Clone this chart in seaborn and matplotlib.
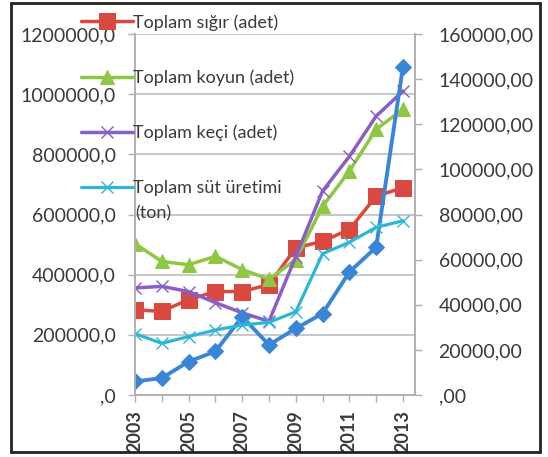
import numpy as np
import pandas as pd
import seaborn as sns
import matplotlib.pyplot as plt
from matplotlib.ticker import FuncFormatter, MultipleLocator
from matplotlib.patches import Rectangle

years = [2003, 2004, 2005, 2006, 2007, 2008, 2009, 2010, 2011, 2012, 2013]

# left axis (adet)
sigir = [283000, 278000, 317000, 344000, 344000, 367000, 489000, 511000, 550000, 661000, 689000]
koyun = [503000, 444000, 433000, 461000, 417000, 385000, 450000, 627000, 744000, 883000, 950000]
keci = [356000, 361000, 344000, 307000, 273000, 245000, 460000, 678000, 793000, 927000, 1010000]

# right axis (ton)
sut = [27200, 22900, 25900, 28800, 31000, 32200, 36900, 62600, 67700, 74300, 77200]
mavi = [6000, 7500, 14800, 19300, 34700, 22200, 29500, 36100, 54500, 65500, 145500]

labels = ['Toplam sığır (adet)', 'Toplam koyun (adet)', 'Toplam keçi (adet)',
          'Toplam süt üretimi']

df = pd.DataFrame({'yil': years, 'sigir': sigir, 'koyun': koyun, 'keci': keci,
                   'sut': sut, 'mavi': mavi})

sns.set_style('white')
plt.rcParams['font.family'] = ['Lato', 'DejaVu Sans']
txt = '#3a3a3a'

fig = plt.figure(figsize=(5.48, 4.57), dpi=100)
ax = fig.add_axes([135/548, 1-395/457, 280/548, 361/457])
ax2 = ax.twinx()

red, green, purple, cyan, blue = '#d9493f', '#8fc743', '#8a5ec4', '#2db6d6', '#3a86d6'

sns.lineplot(data=df, x='yil', y='mavi', ax=ax2, color=blue, marker='D', markersize=8,
             markeredgecolor=blue, linewidth=2.8, legend=False)
sns.lineplot(data=df, x='yil', y='sut', ax=ax2, color=cyan, marker='x', markersize=9,
             markeredgecolor=cyan, markeredgewidth=1, linewidth=2.3, legend=False)
l_sut = ax2.get_lines()[-1]

sns.lineplot(data=df, x='yil', y='sigir', ax=ax, color=red, marker='s', markersize=11,
             markeredgecolor=red, linewidth=2.5, legend=False)
sns.lineplot(data=df, x='yil', y='koyun', ax=ax, color=green, marker='^', markersize=10,
             markeredgecolor=green, linewidth=2.5, legend=False)
sns.lineplot(data=df, x='yil', y='keci', ax=ax, color=purple, marker='x', markersize=9,
             markeredgecolor=purple, markeredgewidth=1, linewidth=2.5, legend=False)
l_sigir, l_koyun, l_keci = ax.get_lines()[-3:]

# right-axis lines drawn over the left ones like the reference
ax.set_zorder(1)
ax2.set_zorder(2)
ax.patch.set_visible(True)
ax2.patch.set_visible(False)

ax.set_xlim(2003, 2013.45)
ax.set_ylim(0, 1200000)
ax2.set_ylim(0, 160000)
ax.yaxis.set_major_locator(MultipleLocator(200000))
ax2.yaxis.set_major_locator(MultipleLocator(20000))
ax.set_xticks(years)
ax.set_xticklabels([str(y) if y % 2 == 1 else '' for y in years], rotation=90)

def left_fmt(v, p):
    s = f'{v:.1f}'.replace('.', ',')
    return s[1:] if s.startswith('0,') else s

def right_fmt(v, p):
    s = f'{v:.2f}'.replace('.', ',')
    return s[1:] if s.startswith('0,') else s

ax.yaxis.set_major_formatter(FuncFormatter(left_fmt))
ax2.yaxis.set_major_formatter(FuncFormatter(right_fmt))

ax.grid(axis='y', color='#c8c8c8', linewidth=1.5)
ax.set_xlabel('')
ax.set_ylabel('')
ax2.set_ylabel('')

for a in (ax, ax2):
    for s in a.spines.values():
        s.set_color('#b0b0b0')
        s.set_linewidth(1.2)
    a.spines['top'].set_visible(False)
ax.tick_params(axis='y', length=5, width=1, color='#b0b0b0', pad=9, labelsize=14, labelcolor=txt, left=True)
ax.tick_params(axis='x', length=5, width=1, color='#b0b0b0', pad=6, labelsize=13, labelcolor=txt, bottom=True)
ax2.tick_params(axis='y', length=5, width=1, color='#b0b0b0', pad=12, labelsize=14, labelcolor=txt, right=True)

for t in ax.get_xticklabels():
    t.set_fontweight('bold')

leg = fig.legend([l_sigir, l_koyun, l_keci, l_sut], labels,
                 loc='upper left', bbox_to_anchor=(72/548, 1-5/457),
                 frameon=False, fontsize=13, labelcolor=txt, labelspacing=2.15,
                 handlelength=2.9, handletextpad=0.0, borderpad=0, markerscale=1.0)
leg.set_zorder(5)
# second line of the last legend label
fig.text(135/548, 1-213/457, '(ton)', fontsize=13, color=txt, va='center', ha='left', zorder=5)

# outer frame
fig.patches.append(Rectangle((11/548, 1-452/457), 529/548, 449/457, transform=fig.transFigure,
                             fill=False, edgecolor='#222222', linewidth=2))

fig.savefig('out.png', dpi=100)
